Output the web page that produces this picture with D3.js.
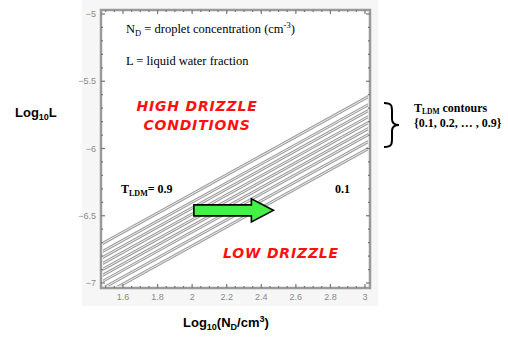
<!DOCTYPE html>
<html>
<head>
<meta charset="utf-8">
<script src="https://cdn.jsdelivr.net/npm/d3@7"></script>
<style>
  body { margin: 0; background: #fff; }
  svg { display: block; }
</style>
</head>
<body>
<div id="chart"></div>
<script>
// contour levels T_LDM, top line = 0.9, bottom = 0.1
const levels = [0.9, 0.8, 0.7, 0.6, 0.5, 0.4, 0.3, 0.2, 0.1];
// contour end points: Log10(ND) -> Log10(L)
const contourX = [1.5, 3.0];
const contourLeft = [-6.693, -6.753, -6.797, -6.842, -6.886, -6.930, -6.975, -7.027, -7.079];
const contourRight = [-5.628, -5.688, -5.732, -5.777, -5.821, -5.865, -5.910, -5.962, -6.014];
const xTicks = [1.6, 1.8, 2, 2.2, 2.4, 2.6, 2.8, 3];
const yTicks = [-5, -5.5, -6, -6.5, -7];
// arrow showing direction of increasing ND, in data units
const arrowFrom = [2.01, -6.46];
const arrowTo = [2.47, -6.46];

const width = 508, height = 338;
const box = {left: 101, right: 370, top: 10, bottom: 288};

const svg = d3.select('#chart').append('svg')
  .attr('width', width)
  .attr('height', height);

const x = d3.scaleLinear().domain([1.6, 3]).range([123, 365]);
const y = d3.scaleLinear().domain([-7, -5]).range([283, 14]);

/* faint scanned-figure backdrop */
svg.append('rect')
  .attr('x', 82).attr('y', 0)
  .attr('width', 296).attr('height', 306)
  .attr('fill', '#f6f6f6');

svg.append('rect')
  .attr('x', box.left).attr('y', box.top)
  .attr('width', box.right - box.left).attr('height', box.bottom - box.top)
  .attr('fill', '#fff');

svg.append('clipPath').attr('id', 'plotclip')
  .append('rect')
  .attr('x', box.left + 2).attr('y', box.top + 2)
  .attr('width', box.right - box.left - 4).attr('height', box.bottom - box.top - 4);

/* contour lines, drawn doubled like the scan */
const contours = levels.map((lv, i) => ({
  level: lv,
  pts: [[contourX[0], contourLeft[i]], [contourX[1], contourRight[i]]]
}));
const ext = d3.line()
  .x(d => x(d[0]))
  .y(d => y(d[1]));
// extend straight contours across the whole box
function extended(pts) {
  const [a, b] = pts;
  const s = (b[1] - a[1]) / (b[0] - a[0]);
  const x0 = x.invert(box.left), x1 = x.invert(box.right);
  return [[x0, a[1] + s * (x0 - a[0])], [x1, a[1] + s * (x1 - a[0])]];
}
const cg = svg.append('g').attr('clip-path', 'url(#plotclip)');
cg.selectAll('.c-outer')
  .data(contours)
  .enter().append('path')
  .attr('class', 'c-outer')
  .attr('d', d => ext(extended(d.pts)))
  .attr('fill', 'none')
  .attr('stroke', '#a0a0a0')
  .attr('stroke-width', 3);
cg.selectAll('.c-inner')
  .data(contours)
  .enter().append('path')
  .attr('class', 'c-inner')
  .attr('d', d => ext(extended(d.pts)))
  .attr('fill', 'none')
  .attr('stroke', '#ececec')
  .attr('stroke-width', 1);

/* frame */
svg.append('rect')
  .attr('x', box.left).attr('y', box.top)
  .attr('width', box.right - box.left).attr('height', box.bottom - box.top)
  .attr('fill', 'none')
  .attr('stroke', '#9a9a9a')
  .attr('stroke-width', 2.5);

/* ticks */
const xMinor = d3.range(1.5, 3.03, 0.05);
const yMinor = d3.range(-7, -4.97, 0.1);
const tg = svg.append('g').attr('stroke', '#777').attr('stroke-width', 1.2);
xMinor.forEach(v => {
  const px = x(v);
  if (px < box.left + 3 || px > box.right - 3) return;
  const len = xTicks.some(t => Math.abs(t - v) < 1e-6) ? 4 : 2;
  tg.append('line').attr('x1', px).attr('x2', px).attr('y1', box.top).attr('y2', box.top + len);
  tg.append('line').attr('x1', px).attr('x2', px).attr('y1', box.bottom).attr('y2', box.bottom - len);
});
yMinor.forEach(v => {
  const py = y(v);
  if (py < box.top + 3 || py > box.bottom - 3) return;
  const len = yTicks.some(t => Math.abs(t - v) < 1e-6) ? 4 : 2;
  tg.append('line').attr('y1', py).attr('y2', py).attr('x1', box.left).attr('x2', box.left + len);
  tg.append('line').attr('y1', py).attr('y2', py).attr('x1', box.right).attr('x2', box.right - len);
});

svg.append('g').selectAll('text')
  .data(xTicks)
  .enter().append('text')
  .attr('x', d => x(d))
  .attr('y', 300)
  .attr('text-anchor', 'middle')
  .attr('font-family', 'Liberation Sans, Arial, sans-serif')
  .attr('font-size', 9)
  .attr('fill', '#8a8a8a')
  .text(d => d3.format('~g')(d));

svg.append('g').selectAll('text')
  .data(yTicks)
  .enter().append('text')
  .attr('x', 96)
  .attr('y', d => y(d) + 3)
  .attr('text-anchor', 'end')
  .attr('font-family', 'Liberation Sans, Arial, sans-serif')
  .attr('font-size', 9)
  .attr('fill', '#8a8a8a')
  .text(d => d3.format('~g')(d));

/* annotations */
const serif = 'Liberation Serif, Times New Roman, serif';
const t1 = svg.append('text').attr('x', 126).attr('y', 33)
  .attr('font-family', serif).attr('font-size', 12.5).attr('fill', '#000');
t1.append('tspan').text('N');
t1.append('tspan').attr('font-size', 8.5).attr('dy', 3).text('D');
t1.append('tspan').attr('dy', -3).text(' = droplet concentration (cm');
t1.append('tspan').attr('font-size', 8.5).attr('dy', -5).text('-3');
t1.append('tspan').attr('dy', 5).text(')');

svg.append('text').attr('x', 126).attr('y', 65)
  .attr('font-family', serif).attr('font-size', 12.5).attr('fill', '#000')
  .text('L = liquid water fraction');

const red = 'DejaVu Sans, sans-serif';
[['HIGH DRIZZLE', 197, 111], ['CONDITIONS', 197, 130], ['LOW DRIZZLE', 281, 258]].forEach(([s, px, py]) => {
  svg.append('text').attr('x', px).attr('y', py)
    .attr('text-anchor', 'middle')
    .attr('font-family', red)
    .attr('font-style', 'italic')
    .attr('font-weight', 'bold')
    .attr('font-size', 14)
    .attr('letter-spacing', 0.8)
    .attr('fill', '#ff1010')
    .text(s);
});

const t9 = svg.append('text').attr('x', 121).attr('y', 193)
  .attr('font-family', serif).attr('font-size', 12).attr('font-weight', 'bold');
t9.append('tspan').text('T');
t9.append('tspan').attr('font-size', 8).attr('dy', 3).text('LDM');
t9.append('tspan').attr('dy', -3).text('= 0.9');

svg.append('text').attr('x', 335).attr('y', 193)
  .attr('font-family', serif).attr('font-size', 12).attr('font-weight', 'bold')
  .text('0.1');

/* green arrow */
const ax0 = x(arrowFrom[0]), ax1 = x(arrowTo[0]), ay = y(arrowFrom[1]);
const headL = 22, bodyH = 5.5, headH = 11.5;
svg.append('path')
  .attr('d', `M${ax0},${ay - bodyH} L${ax1 - headL},${ay - bodyH} L${ax1 - headL},${ay - headH}
    L${ax1},${ay} L${ax1 - headL},${ay + headH} L${ax1 - headL},${ay + bodyH} L${ax0},${ay + bodyH} Z`)
  .attr('fill', '#44f044')
  .attr('stroke', '#000')
  .attr('stroke-width', 1.6)
  .attr('stroke-linejoin', 'miter');

/* brace and contour legend */
svg.append('path')
  .attr('d', 'M384,103 C392,103 392,106 392,112 L392,119 C392,123 394,125 399,125 C394,125 392,127 392,131 L392,138 C392,144 392,147 384,147')
  .attr('fill', 'none')
  .attr('stroke', '#000')
  .attr('stroke-width', 2);

const tl = svg.append('text').attr('x', 414).attr('y', 112)
  .attr('font-family', serif).attr('font-size', 12).attr('font-weight', 'bold');
tl.append('tspan').text('T');
tl.append('tspan').attr('font-size', 7.5).attr('dy', 2).text('LDM');
tl.append('tspan').attr('dy', -2).text(' contours');
svg.append('text').attr('x', 414).attr('y', 127)
  .attr('font-family', serif).attr('font-size', 12).attr('font-weight', 'bold')
  .text('{0.1, 0.2, \u2026 , 0.9}');

/* axis titles */
const sans = 'Liberation Sans, Arial, sans-serif';
const yl = svg.append('text').attr('x', 15).attr('y', 117)
  .attr('font-family', sans).attr('font-size', 13).attr('font-weight', 'bold');
yl.append('tspan').text('Log');
yl.append('tspan').attr('font-size', 9).attr('dy', 3).text('10');
yl.append('tspan').attr('dy', -3).text('L');

const xl = svg.append('text').attr('x', 183).attr('y', 327)
  .attr('font-family', sans).attr('font-size', 13).attr('font-weight', 'bold');
xl.append('tspan').text('Log');
xl.append('tspan').attr('font-size', 9).attr('dy', 3).text('10');
xl.append('tspan').attr('dy', -3).text('(N');
xl.append('tspan').attr('font-size', 9).attr('dy', 3).text('D');
xl.append('tspan').attr('dy', -3).text('/cm');
xl.append('tspan').attr('font-size', 9).attr('dy', -5).text('3');
xl.append('tspan').attr('dy', 5).text(')');
</script>
</body>
</html>
